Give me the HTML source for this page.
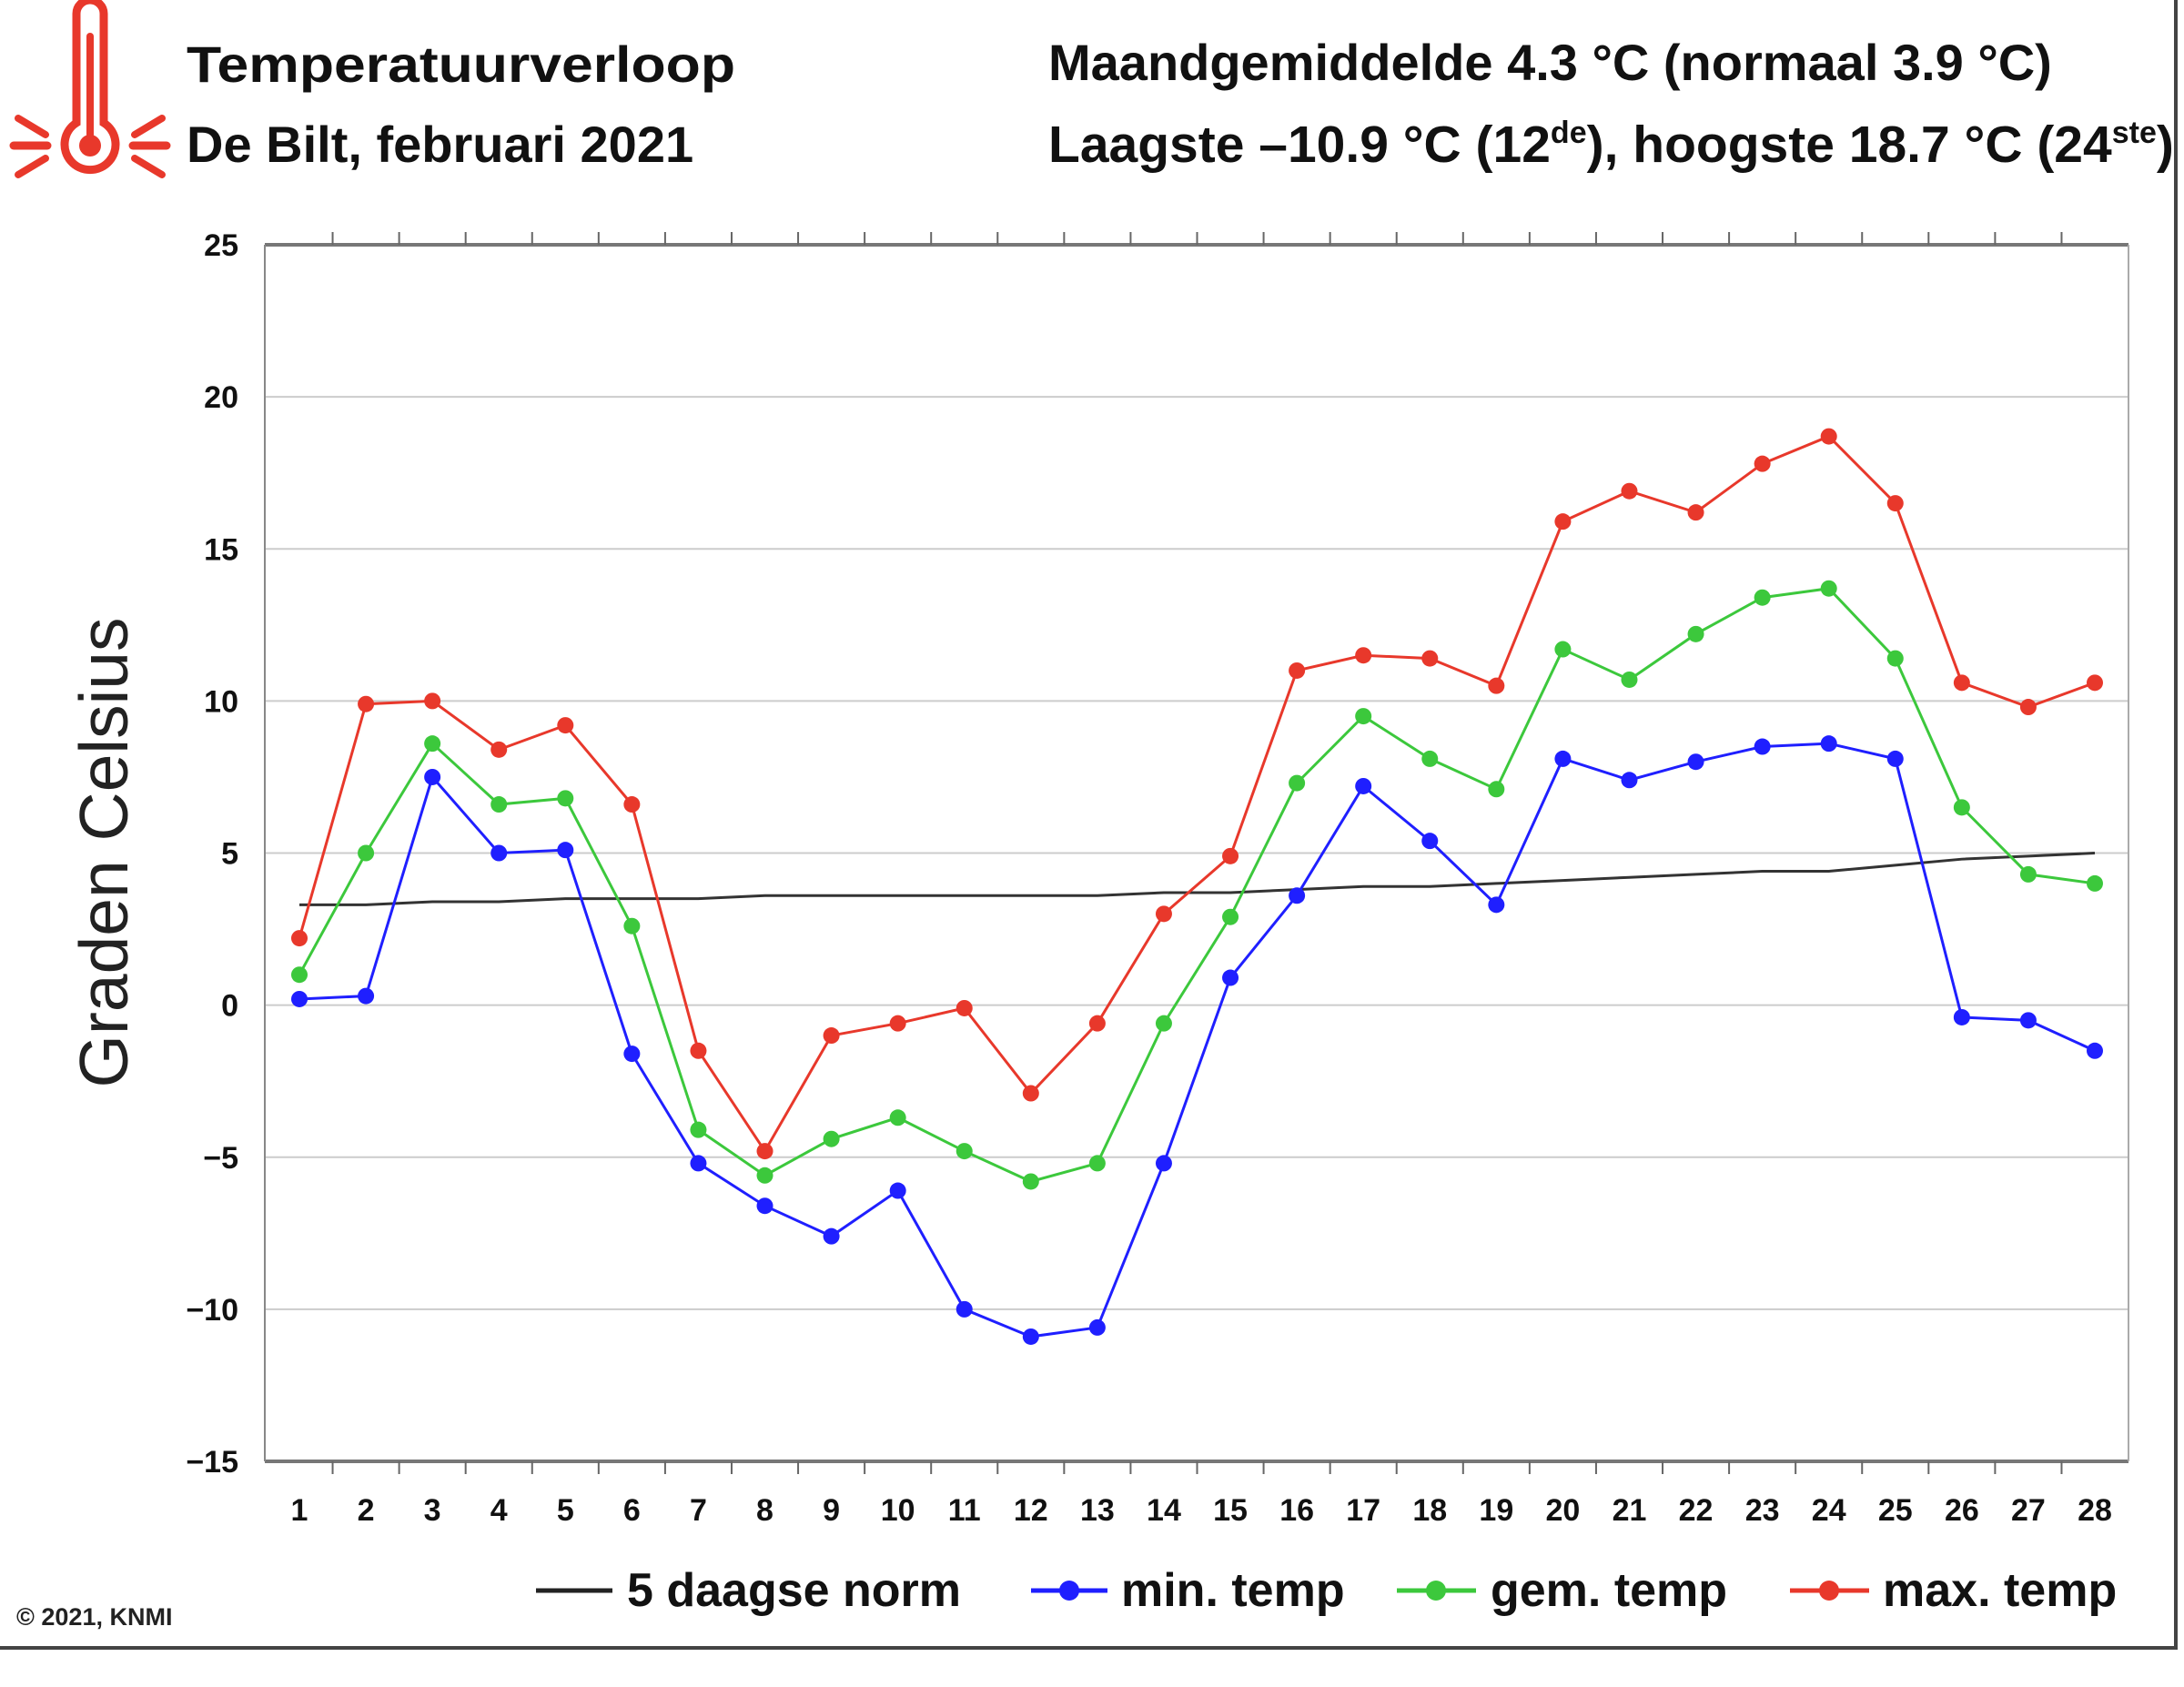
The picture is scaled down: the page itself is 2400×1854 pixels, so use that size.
<!DOCTYPE html>
<html><head><meta charset="utf-8"><style>
body{margin:0;background:#fff;}
svg{display:block;font-family:"Liberation Sans",Arial,sans-serif;}
</style></head><body>
<svg id="chart" width="2400" height="1854" viewBox="0 0 2400 1854">
<g stroke="#e8382b" fill="none" stroke-linecap="round">
<path d="M84,15 L84,135 A28,28 0 1 0 114,135 L114,15 A15,15 0 0 0 84,15 Z" stroke-width="9"/>
<circle cx="99" cy="160" r="12" fill="#e8382b" stroke="none"/>
<line x1="99" y1="40" x2="99" y2="150" stroke-width="8"/>
<line x1="15" y1="160" x2="52" y2="160" stroke-width="9"/><line x1="146" y1="160" x2="183" y2="160" stroke-width="9"/>
<line x1="20" y1="130" x2="50" y2="148" stroke-width="8"/><line x1="178" y1="130" x2="148" y2="148" stroke-width="8"/>
<line x1="20" y1="192" x2="50" y2="174" stroke-width="8"/><line x1="178" y1="192" x2="148" y2="174" stroke-width="8"/>
</g>
<g font-weight="bold" font-size="56" fill="#111">
<text x="205" y="90" textLength="603" lengthAdjust="spacingAndGlyphs">Temperatuurverloop</text>
<text x="205" y="178">De Bilt, februari 2021</text>
<text x="1152" y="88" font-size="56">Maandgemiddelde 4.3 °C (normaal 3.9 °C)</text>
<text x="1152" y="178" font-size="57">Laagste –10.9 °C (12<tspan font-size="34" dy="-21">de</tspan><tspan dy="21">), hoogste 18.7 °C (24</tspan><tspan font-size="34" dy="-21">ste</tspan><tspan dy="21">)</tspan></text>
</g>
<g id="grid"></g>
<g id="axes"></g>
<g id="series"></g>
<text transform="translate(140,937) rotate(-90)" text-anchor="middle" font-size="75" fill="#222">Graden Celsius</text>
<g font-weight="bold" font-size="52" fill="#111">
<g><line x1="589" y1="1748" x2="673" y2="1748" stroke="#222" stroke-width="5"/><text x="689" y="1765">5 daagse norm</text></g>
<g><line x1="1133" y1="1748" x2="1217" y2="1748" stroke="#1f1fff" stroke-width="5"/><circle cx="1175" cy="1748" r="11" fill="#1f1fff"/><text x="1232" y="1765">min. temp</text></g>
<g><line x1="1535" y1="1748" x2="1622" y2="1748" stroke="#3cc83c" stroke-width="5"/><circle cx="1578" cy="1748" r="11" fill="#3cc83c"/><text x="1638" y="1765">gem. temp</text></g>
<g><line x1="1967" y1="1748" x2="2054" y2="1748" stroke="#e8382b" stroke-width="5"/><circle cx="2010" cy="1748" r="11" fill="#e8382b"/><text x="2069" y="1765">max. temp</text></g>
</g>
<text x="18" y="1786" font-size="27" font-weight="bold" fill="#222">© 2021, KNMI</text>
<line x1="0" y1="1811" x2="2393" y2="1811" stroke="#444" stroke-width="4"/>
<line x1="2391" y1="0" x2="2391" y2="1811" stroke="#444" stroke-width="4"/>
</svg>
<script>
const days=[1,2,3,4,5,6,7,8,9,10,11,12,13,14,15,16,17,18,19,20,21,22,23,24,25,26,27,28];
const yTicks=[25,20,15,10,5,0,-5,-10,-15];
const yTickLabels=["25","20","15","10","5","0","−5","−10","−15"];
const maxTemp=[2.2,9.9,10.0,8.4,9.2,6.6,-1.5,-4.8,-1.0,-0.6,-0.1,-2.9,-0.6,3.0,4.9,11.0,11.5,11.4,10.5,15.9,16.9,16.2,17.8,18.7,16.5,10.6,9.8,10.6];
const gemTemp=[1.0,5.0,8.6,6.6,6.8,2.6,-4.1,-5.6,-4.4,-3.7,-4.8,-5.8,-5.2,-0.6,2.9,7.3,9.5,8.1,7.1,11.7,10.7,12.2,13.4,13.7,11.4,6.5,4.3,4.0];
const minTemp=[0.2,0.3,7.5,5.0,5.1,-1.6,-5.2,-6.6,-7.6,-6.1,-10.0,-10.9,-10.6,-5.2,0.9,3.6,7.2,5.4,3.3,8.1,7.4,8.0,8.5,8.6,8.1,-0.4,-0.5,-1.5];
const normTemp=[3.3,3.3,3.4,3.4,3.5,3.5,3.5,3.6,3.6,3.6,3.6,3.6,3.6,3.7,3.7,3.8,3.9,3.9,4.0,4.1,4.2,4.3,4.4,4.4,4.6,4.8,4.9,5.0];

const NS="http://www.w3.org/2000/svg";
const L=291,R=2339,T=269,B=1606;
const x=d=>329+(d-1)*(2302-329)/27;
const y=v=>B-(v+15)*(B-T)/40;
function mk(tag,attrs,parent){const e=document.createElementNS(NS,tag);for(const k in attrs)e.setAttribute(k,attrs[k]);parent.appendChild(e);return e;}
const grid=document.getElementById('grid'),axes=document.getElementById('axes'),series=document.getElementById('series');
yTicks.forEach((t,i)=>{
  const g=mk('line',{x1:L,x2:R,y1:y(t),y2:y(t),stroke:(t===25||t===-15)?'#777':'#ccc','stroke-width':(t===25||t===-15)?4:2},grid);
  
  
  const tx=mk('text',{x:262,y:y(t)+12,'text-anchor':'end','font-size':34,'font-weight':'bold',fill:'#111'},axes);
  tx.textContent=yTickLabels[i];
  
  
});
const lv=mk('line',{x1:L,x2:L,y1:T,y2:B,stroke:'#888','stroke-width':2},axes);


const rv=mk('line',{x1:R,x2:R,y1:T,y2:B,stroke:'#aaa','stroke-width':2},axes);


days.forEach(d=>{
  const xt=x(d)+ (x(2)-x(1))/2;
  if(d<28){
    const a=mk('line',{x1:xt,x2:xt,y1:T-14,y2:T,stroke:'#666','stroke-width':2},axes);
    
    
    const b=mk('line',{x1:xt,x2:xt,y1:B,y2:B+14,stroke:'#666','stroke-width':2},axes);
    
    
  }
  const tx=mk('text',{x:x(d),y:1671,'text-anchor':'middle','font-size':34,'font-weight':'bold',fill:'#111'},axes);
  tx.textContent=d;
  
  
});
function draw(vals,color,name,dots){
  const p=mk('polyline',{points:vals.map((v,i)=>x(days[i])+','+y(v)).join(' '),fill:'none',stroke:color,'stroke-width':3},series);
  
  
  if(dots)vals.forEach((v,i)=>{
    const c=mk('circle',{cx:x(days[i]),cy:y(v),r:9,fill:color},series);
    
    
  });
}
draw(normTemp,'#333','norm',false);
draw(minTemp,'#1f1fff','min-temp',true);
draw(gemTemp,'#3cc83c','gem-temp',true);
draw(maxTemp,'#e8382b','max-temp',true);
</script>
</body></html>
